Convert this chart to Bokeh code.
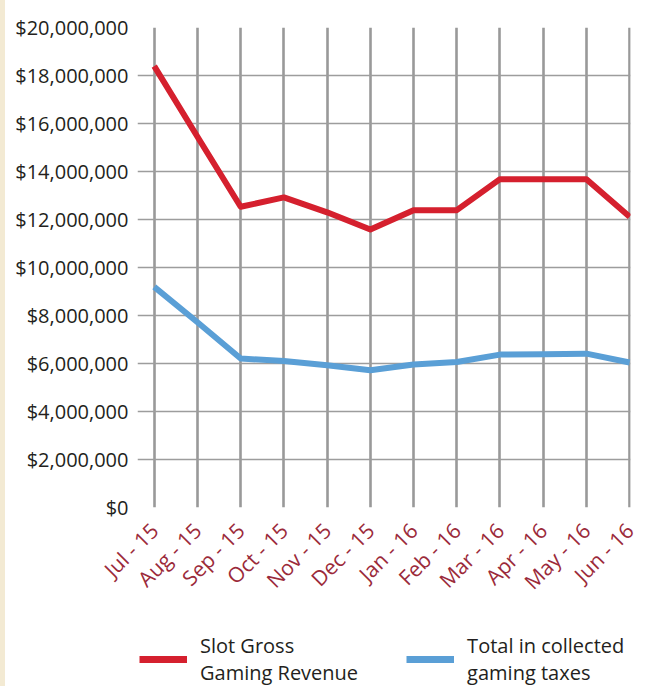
from bokeh.plotting import figure
from bokeh.layouts import column
from bokeh.models import (FixedTicker, NumeralTickFormatter, Range1d, Legend, LegendItem)
from bokeh.embed import file_html
from bokeh.resources import INLINE

months = ["Jul - 15", "Aug - 15", "Sep - 15", "Oct - 15", "Nov - 15", "Dec - 15",
          "Jan - 16", "Feb - 16", "Mar - 16", "Apr - 16", "May - 16", "Jun - 16"]
slot_revenue = [18390000, 15450000, 12530000, 12920000, 12300000, 11580000,
                12390000, 12390000, 13680000, 13680000, 13680000, 12110000]
gaming_taxes = [9190000, 7720000, 6210000, 6100000, 5930000, 5720000,
                5960000, 6060000, 6370000, 6390000, 6410000, 6040000]
y_ticks = [0, 2000000, 4000000, 6000000, 8000000, 10000000,
           12000000, 14000000, 16000000, 18000000, 20000000]
legend_labels = ["Slot Gross\nGaming Revenue", "Total in collected\ngaming taxes"]

FONT = "Open Sans"
RED = "#d5202e"
BLUE = "#5a9fd6"
STRIP = {"background": "linear-gradient(to right, #f3ead3 5px, #ffffff 5px)"}
xs = list(range(len(months)))

p = figure(frame_width=493, frame_height=480,
           min_border_left=137, min_border_right=17, min_border_top=27, min_border_bottom=110,
           x_range=Range1d(-0.387, 11.02), y_range=Range1d(0, 20000000),
           output_backend="svg", toolbar_location=None)
p.outline_line_color = None
p.background_fill_color = "white"
p.border_fill_alpha = 0
p.styles = STRIP

p.line(xs, slot_revenue, line_color=RED, line_width=6, line_join="round")
p.line(xs, gaming_taxes, line_color=BLUE, line_width=6, line_join="round")

# axes
p.xaxis.ticker = FixedTicker(ticks=xs)
p.xaxis.major_label_overrides = {i: m for i, m in enumerate(months)}
p.xaxis.major_label_orientation = 0.785398
p.xaxis.axis_line_color = None
p.xaxis.major_tick_line_color = None
p.xaxis.minor_tick_line_color = None
p.xaxis.major_label_text_color = "#9b2a3a"
p.xaxis.major_label_text_font = FONT
p.xaxis.major_label_text_font_size = "21px"
p.xaxis.major_label_standoff = 13

p.yaxis.ticker = FixedTicker(ticks=y_ticks)
p.yaxis.formatter = NumeralTickFormatter(format="$0,0")
p.yaxis.axis_line_color = None
p.yaxis.major_tick_line_color = None
p.yaxis.minor_tick_line_color = None
p.yaxis.major_label_text_color = "#231f20"
p.yaxis.major_label_text_font = FONT
p.yaxis.major_label_text_font_size = "20px"
p.yaxis.major_label_standoff = 3

# grid
p.xgrid.ticker = FixedTicker(ticks=xs)
p.xgrid.grid_line_color = "#999999"
p.xgrid.grid_line_width = 2.6
p.ygrid.ticker = FixedTicker(ticks=y_ticks)
p.ygrid.grid_line_color = "#9d9d9d"
p.ygrid.grid_line_width = 1.6

# legend strip below the chart (same series, drawn outside the visible range)
leg = figure(width=647, height=69, min_border=0,
             x_range=Range1d(0, 647), y_range=Range1d(0, 69),
             x_axis_location=None, y_axis_location=None,
             output_backend="svg", toolbar_location=None)
leg.outline_line_color = None
leg.grid.visible = False
leg.background_fill_alpha = 0
leg.border_fill_alpha = 0
leg.styles = STRIP
l1 = leg.line(xs, slot_revenue, line_color=RED, line_width=7)
l2 = leg.line(xs, gaming_taxes, line_color=BLUE, line_width=7)

legend = Legend(items=[LegendItem(label=legend_labels[0], renderers=[l1]),
                       LegendItem(label=legend_labels[1], renderers=[l2])],
                orientation="horizontal", location=(2, 0))
legend.border_line_color = None
legend.background_fill_alpha = 0
legend.label_text_font = FONT
legend.label_text_font_size = "20px"
legend.label_text_color = "#231f20"
legend.label_text_line_height = 1.2
legend.glyph_width = 48
legend.glyph_height = 20
legend.label_standoff = 13
legend.spacing = 48
legend.padding = 0
legend.margin = 0
leg.add_layout(legend, "center")

layout = column(p, leg, spacing=0)
html = file_html(layout, INLINE)
open("out.html", "w").write(html)
